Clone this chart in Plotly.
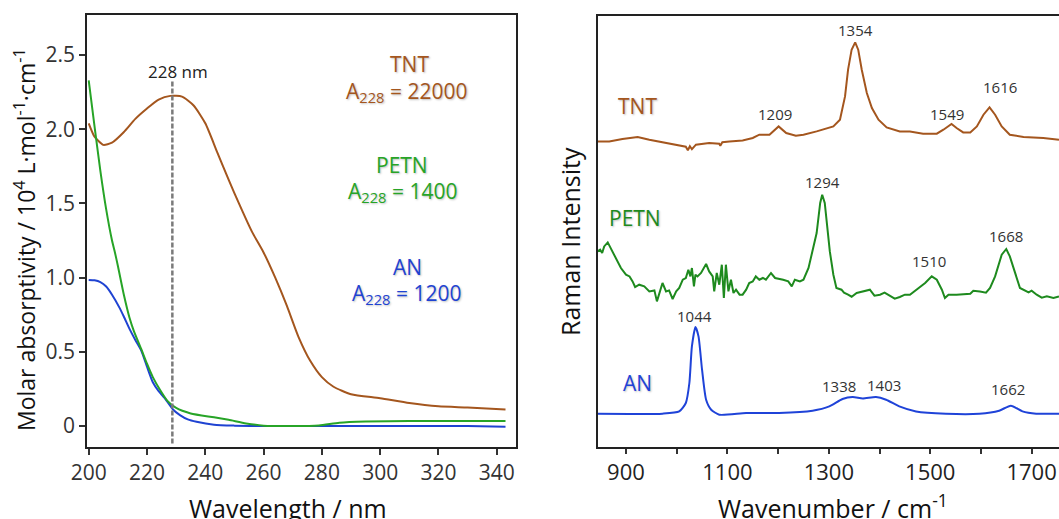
import plotly.graph_objects as go

# ---------------- Left panel: UV absorption (molar absorptivity, 10^4 L/mol/cm) ----------------
TNT_UV_NM = [200, 202, 205, 208, 212, 216, 220, 224, 228, 232, 236, 240, 244, 248, 252, 256,
             260, 264, 268, 272, 276, 280, 284, 290, 300, 310, 320, 330, 343]
TNT_UV_EPS = [2.04, 1.95, 1.895, 1.91, 1.98, 2.07, 2.14, 2.20, 2.225, 2.22, 2.16, 2.04, 1.85,
              1.66, 1.48, 1.31, 1.17, 1.00, 0.81, 0.60, 0.44, 0.33, 0.265, 0.215, 0.188,
              0.155, 0.133, 0.125, 0.112]

PETN_UV_NM = [200, 202, 204, 206, 208, 209, 210, 212, 214, 215.5, 218, 220, 222, 224.5, 227,
              230, 235, 243, 248, 254, 260, 270, 279, 286, 295, 310, 343]
PETN_UV_EPS = [2.33, 2.02, 1.72, 1.46, 1.25, 1.17, 1.08, 0.89, 0.73, 0.64, 0.52, 0.42, 0.33,
               0.243, 0.17, 0.122, 0.085, 0.059, 0.042, 0.018, 0.003, 0.0, 0.004, 0.022,
               0.030, 0.035, 0.035]

AN_UV_NM = [200, 202, 204, 206, 208, 210.5, 212, 214, 216, 218, 220, 222, 224, 226, 229,
            231.3, 234, 237, 243, 250, 260, 300, 330, 343]
AN_UV_EPS = [0.985, 0.982, 0.97, 0.94, 0.885, 0.80, 0.74, 0.655, 0.58, 0.51, 0.40, 0.295,
             0.235, 0.19, 0.11, 0.074, 0.045, 0.029, 0.009, 0.003, 0.0, 0.0, 0.0, -0.004]

MARK_NM = 228.7
MARK_Y = [-0.117, 2.33]

UV_LABELS = [
    ("TNT", 310, 2.44, "tnt"),
    ("A<sub>228</sub> = 22000", 309, 2.25, "tnt"),
    ("PETN", 307.5, 1.756, "petn"),
    ("A<sub>228</sub> = 1400", 307.7, 1.577, "petn"),
    ("AN", 309.5, 1.072, "an"),
    ("A<sub>228</sub> = 1200", 309, 0.893, "an"),
]

# ---------------- Right panel: Raman spectra (stacked, arbitrary units) ----------------
TNT_RAMAN_WN = [844, 867, 893, 923, 946, 972, 999, 1018, 1022, 1026, 1030, 1038, 1064, 1084,
                1086, 1090, 1104, 1130, 1150, 1163, 1183, 1201, 1216, 1235, 1250, 1276, 1309,
                1322, 1332, 1338, 1345, 1352, 1358, 1365, 1375, 1385, 1398, 1414, 1440, 1460,
                1486, 1513, 1526, 1534, 1542, 1552, 1565, 1579, 1592, 1605, 1617, 1628, 1641,
                1657, 1684, 1723, 1754]
TNT_RAMAN_I = [305.3, 305.3, 307.7, 309.7, 307, 304.3, 302, 300, 296.5, 300.5, 297.5, 302,
               303.7, 303, 301, 304.5, 305.3, 306.3, 308.7, 312, 312, 320.3, 313.7, 311, 312,
               315.3, 320.3, 327, 350.3, 377, 397, 404.3, 397, 377, 353.7, 338.7, 327, 319.3,
               315.3, 315.3, 313, 313, 317, 320.3, 322.7, 318.7, 314.3, 314.3, 320.3, 332,
               339.3, 332, 320.3, 312, 309.7, 308.7, 307]

PETN_RAMAN_WN = [844, 849, 853, 857, 864, 870, 880, 890, 900, 907, 913, 918, 926, 936, 946,
                 956, 961, 967, 972, 979, 985, 992, 999, 1005, 1012, 1018, 1023, 1027, 1030,
                 1034, 1037, 1041, 1048, 1058, 1064, 1071, 1074, 1079, 1084, 1089, 1093, 1097,
                 1102, 1107, 1112, 1117, 1124, 1130, 1137, 1143, 1150, 1156, 1163, 1170, 1176,
                 1186, 1194, 1210, 1220, 1227, 1233, 1243, 1250, 1260, 1269, 1276, 1283, 1287,
                 1292, 1297, 1302, 1309, 1315, 1325, 1330, 1338, 1345, 1355, 1365, 1381, 1390,
                 1401, 1410, 1421, 1430, 1440, 1450, 1460, 1477, 1490, 1503, 1513, 1523, 1529,
                 1536, 1552, 1579, 1585, 1598, 1610, 1618, 1628, 1641, 1650, 1657, 1667, 1677,
                 1694, 1700, 1710, 1720, 1730, 1743, 1754]
PETN_RAMAN_I = [195.3, 197, 193.7, 200.3, 204.3, 198.7, 188.7, 178.7, 172, 170.3, 165.3,
                159.7, 162, 160.3, 155.3, 156.3, 145.3, 155.3, 163.7, 155.3, 156.3, 147.7,
                155.3, 158.7, 167, 168.7, 177, 170.3, 178.7, 160.3, 172, 170.3, 173.7, 182.7,
                175.3, 170.3, 155.3, 173.7, 162, 182, 148.7, 182, 155.3, 167, 153.7, 157, 152,
                152, 157, 163.7, 165.3, 170.3, 167, 168.7, 167, 173.7, 168.7, 167, 165.3,
                160.3, 167, 165.3, 167, 178.7, 197, 213.7, 243.7, 252, 243.7, 220.3, 195.3,
                172, 158.7, 157, 154, 152, 150, 153.7, 155, 157, 151, 152, 154, 150.3, 148,
                149.7, 152, 152, 158.7, 163.7, 170.3, 167, 157, 148.7, 152, 152, 153, 156,
                155.3, 154, 158.7, 170.3, 192, 197.7, 190.3, 173.7, 158.7, 154.3, 156, 152,
                149, 150.3, 148.7, 150.3]

AN_RAMAN_WN = [844, 906, 972, 1005, 1018, 1025, 1030, 1037, 1043, 1050, 1058, 1068, 1084,
               1137, 1202, 1268, 1301, 1327, 1347, 1367, 1393, 1413, 1439, 1472, 1531, 1597,
               1636, 1659, 1682, 1709, 1754]
AN_RAMAN_I = [33, 32.7, 33, 35.3, 43.7, 63.7, 100.3, 119.7, 110.3, 77, 47, 37, 32, 33.7,
              33.7, 36, 40.3, 47.7, 49.7, 48.3, 49.7, 47, 40.3, 35.3, 33, 33, 36, 41, 35.3,
              33, 33]

PEAK_LABELS = [("1354", 1353.6, 417), ("1209", 1194, 333), ("1549", 1532.5, 333),
               ("1616", 1637.7, 359.7), ("1294", 1287, 264.3), ("1510", 1497.6, 185.3),
               ("1668", 1649.5, 211), ("1044", 1036, 131), ("1338", 1320.8, 61),
               ("1403", 1409, 62), ("1662", 1652.8, 58)]

RAMAN_NAMES = [("TNT", 922, 340.3, "tnt"), ("PETN", 917.8, 228.7, "petn"),
               ("AN", 922, 63.7, "an")]

UV_COLORS = {"tnt": "#A4561E", "petn": "#27A427", "an": "#1F43D2"}
RAMAN_COLORS = {"tnt": "#A4561E", "petn": "#1E8A1E", "an": "#1F43D8"}

FONT = "Open Sans"
W, H = 1059, 519
SHADOW = "1px 1px 2px rgba(0,0,0,0.25)"

fig = go.Figure()

def line(x, y, color, ax, shape="spline"):
    xa, ya = ("x", "y") if ax == 1 else ("x2", "y2")
    ln = dict(color=color, width=2, shape=shape)
    if shape == "spline":
        ln["smoothing"] = 0.6
    fig.add_trace(go.Scatter(x=x, y=y, mode="lines", line=ln, xaxis=xa, yaxis=ya,
                             showlegend=False, hoverinfo="skip"))

line(TNT_UV_NM, TNT_UV_EPS, UV_COLORS["tnt"], 1)
line(AN_UV_NM, AN_UV_EPS, UV_COLORS["an"], 1)
line(PETN_UV_NM, PETN_UV_EPS, UV_COLORS["petn"], 1)
fig.add_trace(go.Scatter(x=[MARK_NM, MARK_NM], y=MARK_Y, mode="lines",
                         line=dict(color="#7a7a7a", width=2.5, dash="5px,2px"),
                         xaxis="x", yaxis="y", showlegend=False, hoverinfo="skip"))

line(TNT_RAMAN_WN, TNT_RAMAN_I, RAMAN_COLORS["tnt"], 2, "linear")
line(PETN_RAMAN_WN, PETN_RAMAN_I, RAMAN_COLORS["petn"], 2, "linear")
line(AN_RAMAN_WN, AN_RAMAN_I, RAMAN_COLORS["an"], 2, "spline")

ann = []
ann.append(dict(text="228 nm", x=230.5, y=2.39, xref="x", yref="y", showarrow=False,
                font=dict(family=FONT, size=17, color="#222")))
for t, x, y, k in UV_LABELS:
    ann.append(dict(text=t, x=x, y=y, xref="x", yref="y", showarrow=False,
                    font=dict(family=FONT, size=21, color=UV_COLORS[k], shadow=SHADOW)))
for t, x, y in PEAK_LABELS:
    ann.append(dict(text=t, x=x, y=y, xref="x2", yref="y2", showarrow=False,
                    font=dict(family=FONT, size=15, color="#333")))
for t, x, y, k in RAMAN_NAMES:
    ann.append(dict(text=t, x=x, y=y, xref="x2", yref="y2", showarrow=False,
                    font=dict(family=FONT, size=21, color=RAMAN_COLORS[k], shadow=SHADOW)))

# axis titles
ann.append(dict(text="Molar absorptivity / 10<sup>4</sup> L·mol<sup>-1</sup>·cm<sup>-1</sup>",
                x=25 / W, y=1 - 240 / H, xref="paper", yref="paper", textangle=-90,
                showarrow=False, xanchor="center", yanchor="middle",
                font=dict(family=FONT, size=23, color="#111")))
ann.append(dict(text="Wavelength / nm", x=288 / W, y=1 - 508 / H, xref="paper", yref="paper",
                showarrow=False, xanchor="center", yanchor="middle",
                font=dict(family=FONT, size=25, color="#111")))
ann.append(dict(text="Wavenumber / cm<sup>-1</sup>", x=833 / W, y=1 - 506 / H, xref="paper",
                yref="paper", showarrow=False, xanchor="center", yanchor="middle",
                font=dict(family=FONT, size=25, color="#111")))
ann.append(dict(text="Raman Intensity", x=570 / W, y=1 - 242 / H, xref="paper", yref="paper",
                textangle=-90, showarrow=False, xanchor="center", yanchor="middle",
                font=dict(family=FONT, size=25, color="#111")))

axis_common = dict(showgrid=False, zeroline=False, showline=True, linewidth=2,
                   linecolor="#222", automargin=False)

fig.update_layout(
    width=W, height=H, margin=dict(l=0, r=0, t=0, b=0),
    paper_bgcolor="white", plot_bgcolor="white", showlegend=False,
    annotations=ann,
    xaxis=dict(domain=[87.3 / W, 516 / W], range=[199.52, 346.6], anchor="y",
               tick0=200, dtick=20, ticks="outside", ticklen=6, tickwidth=1.5,
               tickcolor="#333", mirror=True,
               tickfont=dict(family=FONT, size=21, color="#333"), **axis_common),
    yaxis=dict(domain=[(H - 446.7) / H, (H - 15) / H], range=[-0.139, 2.770], anchor="x",
               tickvals=[0, 0.5, 1.0, 1.5, 2.0, 2.5],
               ticktext=["0", "0.5", "1.0", "1.5", "2.0", "2.5"],
               ticks="outside", ticklen=6, tickwidth=1.5, tickcolor="#333", mirror=True,
               tickfont=dict(family=FONT, size=21, color="#333"), **axis_common),
    xaxis2=dict(domain=[597.7 / W, 1.0], range=[844.2, 1754], anchor="y2",
                tick0=900, dtick=200, ticks="outside", ticklen=5, tickwidth=1.5,
                tickcolor="#333", mirror=True,
                minor=dict(dtick=100, tick0=900, ticks="outside", ticklen=5, tickwidth=1.5,
                           tickcolor="#333", showgrid=False),
                tickfont=dict(family=FONT, size=22, color="#222"), **axis_common),
    yaxis2=dict(domain=[(H - 446.7) / H, (H - 16) / H], range=[0, 430.7], anchor="x2",
                showticklabels=False, ticks="", mirror=False, **axis_common),
)

fig.write_html("out.html", config={"displayModeBar": False},
               post_script="document.body.style.margin='0';document.body.style.overflow='hidden';")
